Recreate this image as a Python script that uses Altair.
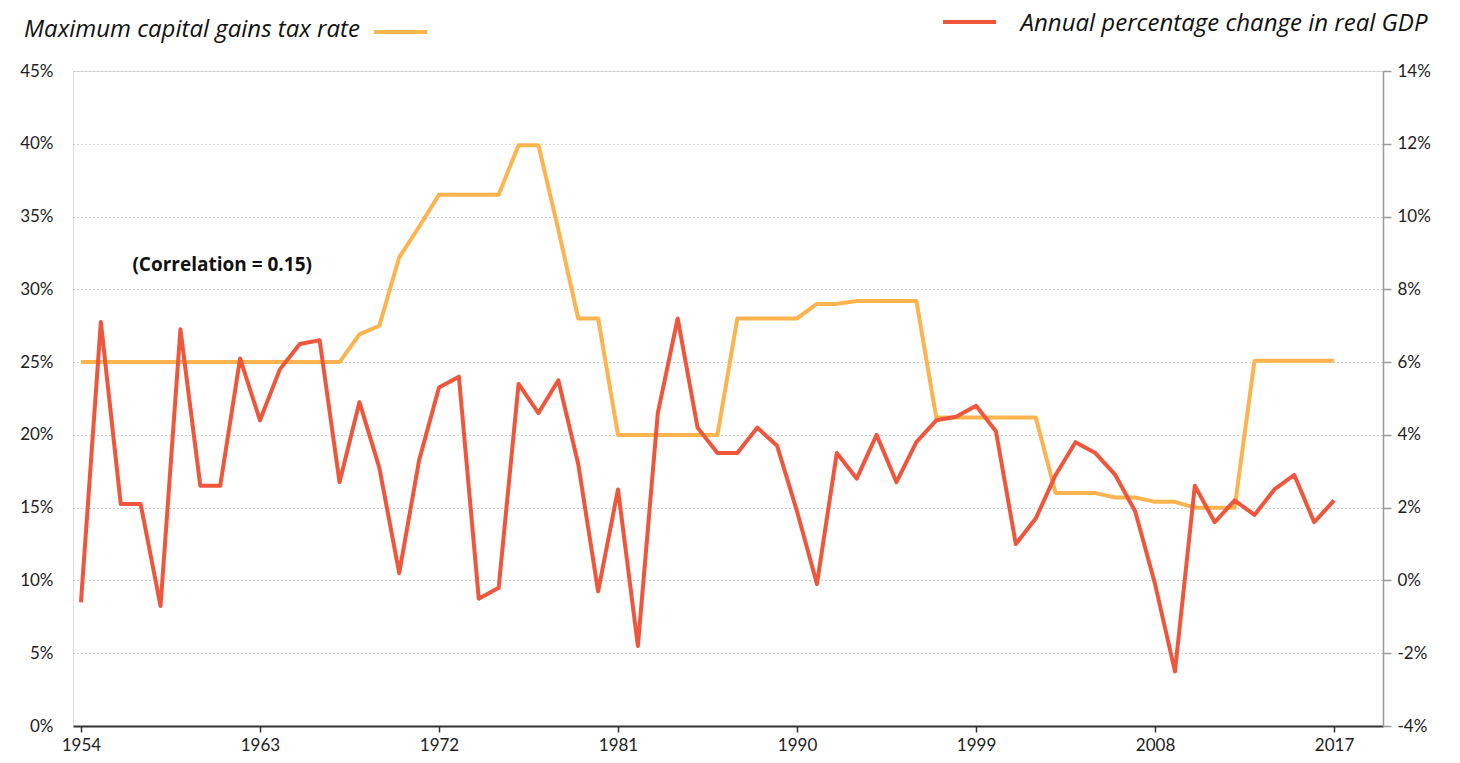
import altair as alt
import pandas as pd

years = list(range(1954, 2018))

tax_rate = [
    25, 25, 25, 25, 25, 25, 25, 25, 25, 25, 25, 25, 25, 25,      # 1954-1967
    26.9, 27.5, 32.2, 34.3, 36.5, 36.5, 36.5, 36.5,              # 1968-1975
    39.9, 39.9, 34.1, 28, 28,                                    # 1976-1980
    20, 20, 20, 20, 20, 20,                                      # 1981-1986
    28, 28, 28, 28, 29, 29, 29.2, 29.2, 29.2, 29.2,              # 1987-1996
    21.2, 21.2, 21.2, 21.2, 21.2, 21.2,                          # 1997-2002
    16, 16, 16, 15.7, 15.7, 15.4, 15.4, 15, 15, 15,              # 2003-2012
    25.1, 25.1, 25.1, 25.1, 25.1,                                # 2013-2017
]

gdp_change = [
    -0.6, 7.1, 2.1, 2.1, -0.7, 6.9, 2.6, 2.6, 6.1, 4.4,          # 1954-1963
    5.8, 6.5, 6.6, 2.7, 4.9, 3.1, 0.2, 3.3, 5.3, 5.6,            # 1964-1973
    -0.5, -0.2, 5.4, 4.6, 5.5, 3.2, -0.3, 2.5, -1.8, 4.6,        # 1974-1983
    7.2, 4.2, 3.5, 3.5, 4.2, 3.7, 1.9, -0.1, 3.5, 2.8,           # 1984-1993
    4.0, 2.7, 3.8, 4.4, 4.5, 4.8, 4.1, 1.0, 1.7, 2.9,            # 1994-2003
    3.8, 3.5, 2.9, 1.9, -0.1, -2.5, 2.6, 1.6, 2.2, 1.8,          # 2004-2013
    2.5, 2.9, 1.6, 2.2,                                          # 2014-2017
]

year_ticks = [1954, 1963, 1972, 1981, 1990, 1999, 2008, 2017]
left_ticks = [0, 5, 10, 15, 20, 25, 30, 35, 40, 45]
right_ticks = [-4, -2, 0, 2, 4, 6, 8, 10, 12, 14]

tax_label = "Maximum capital gains tax rate"
gdp_label = "Annual percentage change in real GDP"
note_text = "(Correlation = 0.15)"

ORANGE = "#FDB44E"
RED = "#EF563C"
FONT = "Lato"
TFONT = "Open Sans"

df = pd.DataFrame({"year": years, "tax": tax_rate, "gdp": gdp_change})

xscale = alt.Scale(domain=[1953.6, 2019.46], nice=False, zero=False)

x_axis = alt.Axis(
    values=year_ticks, format="d", title=None, grid=False,
    domainColor="#333333", domainWidth=2, tickColor="#333333",
    tickWidth=1.5, tickSize=6, labelPadding=5, labelFontSize=17,
    labelColor="#222222", labelFont=FONT,
)

tax_line = alt.Chart(df).mark_line(color=ORANGE, strokeWidth=4, strokeJoin="round").encode(
    x=alt.X("year:Q", scale=xscale, axis=x_axis),
    y=alt.Y(
        "tax:Q",
        scale=alt.Scale(domain=[0, 45], nice=False),
        axis=alt.Axis(
            values=left_ticks, labelExpr="datum.value + '%'", title=None,
            grid=True, gridColor="#c4c4c4", gridDash=[1.5, 2.5], gridWidth=1,
            domain=False, ticks=False, labelPadding=20, labelFontSize=17,
            labelColor="#222222", labelFont=FONT,
        ),
    ),
)

gdp_line = alt.Chart(df).mark_line(color=RED, strokeWidth=4, strokeJoin="round").encode(
    x=alt.X("year:Q", scale=xscale, axis=x_axis),
    y=alt.Y(
        "gdp:Q",
        scale=alt.Scale(domain=[-4, 14], nice=False, zero=False),
        axis=alt.Axis(
            orient="right", values=right_ticks, labelExpr="datum.value + '%'",
            title=None, grid=False, domainColor="#999999", domainWidth=1.5,
            tickColor="#999999", tickSize=8, tickWidth=1.5, labelPadding=6,
            labelFontSize=17, labelColor="#222222", labelFont=FONT,
        ),
    ),
)

note = alt.Chart(pd.DataFrame({"year": [1961.1], "v": [31.7], "t": [note_text]})).mark_text(
    font=TFONT, fontSize=19, fontWeight="bold", color="#111111", align="center", baseline="middle"
).encode(
    x=alt.X("year:Q", scale=xscale, axis=x_axis),
    y=alt.Y("v:Q", scale=alt.Scale(domain=[0, 45], nice=False), axis=None),
    text="t:N",
)

legend_df = pd.DataFrame({"tax": [tax_label], "gdp": [gdp_label]})

tax_text = alt.Chart(legend_df).mark_text(
    font=TFONT, fontSize=24, fontStyle="italic", color="#111111", align="left", baseline="middle"
).encode(x=alt.value(-49), y=alt.value(-41), text="tax:N")

gdp_text = alt.Chart(legend_df).mark_text(
    font=TFONT, fontSize=24, fontStyle="italic", color="#111111", align="center", baseline="middle"
).encode(x=alt.value(1151), y=alt.value(-47), text="gdp:N")

tax_swatch = alt.Chart(legend_df).mark_rule(color=ORANGE, strokeWidth=4).encode(
    x=alt.value(301), x2=alt.value(354), y=alt.value(-39)
)
gdp_swatch = alt.Chart(legend_df).mark_rule(color=RED, strokeWidth=4).encode(
    x=alt.value(870), x2=alt.value(923), y=alt.value(-49)
)

chart = (
    alt.layer(tax_line, gdp_line, note, tax_text, gdp_text, tax_swatch, gdp_swatch)
    .resolve_scale(y="independent")
    .properties(
        width=1310, height=655,
        autosize=alt.AutoSizeParams(type="none"),
        padding={"left": 65, "top": 63, "right": 66, "bottom": 28},
    )
    .configure_view(strokeWidth=0)
    .configure(background="white")
)

chart.save("out.html", embed_options={"renderer": "svg", "actions": False})
